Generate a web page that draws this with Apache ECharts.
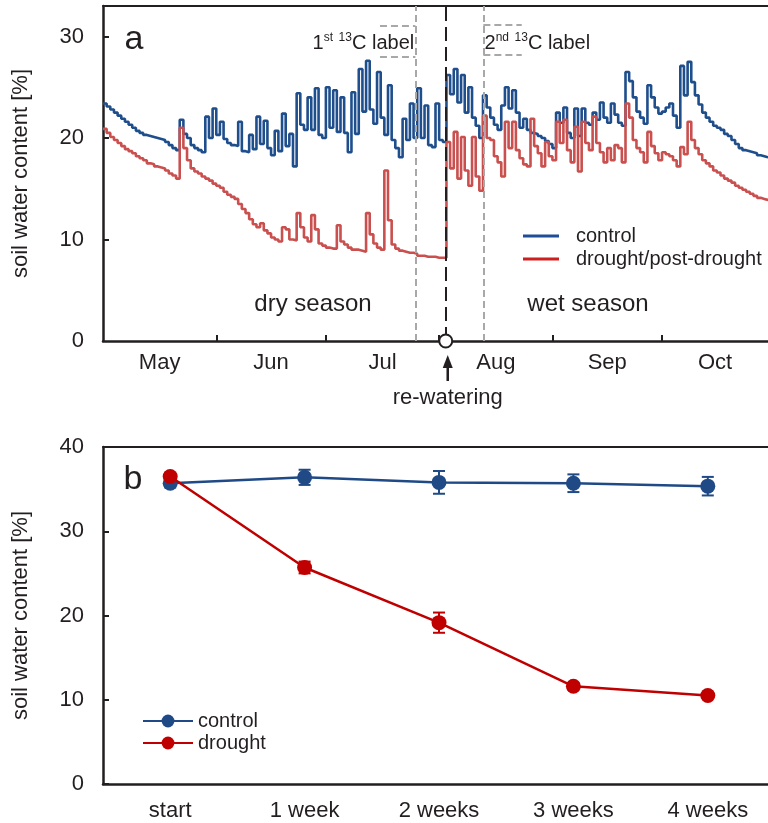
<!DOCTYPE html>
<html><head><meta charset="utf-8">
<script src="https://cdn.jsdelivr.net/npm/echarts@6/dist/echarts.min.js"></script>
<style>html,body{margin:0;padding:0;background:#fff;overflow:hidden}#c{width:768px;height:823px}</style>
</head><body><div id="c"></div>
<script>
// ---------- Panel a : daily soil water content, day 0 = 1 May ----------
const monthNames = ['May','Jun','Jul','Aug','Sep','Oct'];
const monthStarts = [0,31,61,92,123,153,184];
const lastDay = 182;
const controlA = [
23.4,23.1,22.8,22.5,22.2,21.9,21.6,21.3,21.0,20.7,
20.5,20.3,20.2,20.1,20.0,19.9,19.8,19.6,19.3,19.0,
18.8,21.8,20.4,20.0,19.3,19.0,18.8,18.6,22.1,20.0,
22.9,20.3,21.6,19.9,19.5,19.3,19.2,21.6,18.7,18.6,
20.3,18.9,22.1,19.4,21.7,19.0,18.3,20.7,18.7,22.4,
19.2,20.4,17.2,24.4,21.3,20.8,24.0,20.8,24.9,20.3,
20.0,25.0,21.0,24.7,20.6,24.0,20.5,18.6,24.5,20.4,
26.8,22.6,27.6,22.8,21.4,26.5,22.0,20.3,25.2,19.8,
19.0,18.1,21.9,19.8,23.4,20.0,24.9,20.0,23.2,19.3,
19.1,23.4,19.8,19.6,26.2,24.3,26.8,23.5,26.2,22.5,
25.0,22.0,21.2,20.0,24.2,23.0,22.0,21.3,20.8,23.2,
25.0,22.9,24.7,22.5,21.0,21.9,20.8,20.5,20.4,20.2,
20.0,19.7,19.4,19.0,22.5,21.5,23.0,20.5,20.0,22.9,
20.2,22.9,21.5,21.3,22.5,21.8,23.5,22.0,21.5,23.4,
22.3,21.5,21.2,26.5,25.6,24.0,22.6,22.0,21.4,25.2,
24.0,23.0,22.4,22.6,23.0,23.4,22.2,21.0,27.1,24.2,
27.5,25.5,24.2,23.3,22.5,22.0,21.6,21.2,21.0,20.8,
20.4,20.2,19.8,19.4,19.0,18.8,18.7,18.6,18.5,18.3,
18.2,18.1,18.0];
const droughtA = [
20.9,20.5,20.1,19.8,19.5,19.2,18.9,18.7,18.5,18.2,
18.0,17.8,17.5,17.4,17.2,17.1,17.0,16.8,16.5,16.3,
16.0,21.0,19.0,17.8,17.0,16.7,16.5,16.2,16.0,15.8,
15.5,15.3,15.1,14.7,14.4,14.2,14.0,13.5,13.0,12.6,
12.0,11.5,11.2,11.6,10.9,10.6,10.2,10.0,9.8,11.2,
11.0,10.0,9.9,12.6,11.2,10.2,9.8,12.4,11.0,9.6,
9.4,9.2,9.1,9.1,11.4,9.8,9.5,9.2,9.0,9.0,
8.9,8.8,12.6,10.5,9.6,9.2,9.0,16.8,11.9,9.5,
9.1,8.9,8.8,8.7,8.7,8.6,8.4,8.4,8.3,8.3,
8.3,8.2,8.2,8.2,19.6,17.0,20.6,16.0,20.1,16.8,
15.3,20.1,16.2,14.8,22.2,20.0,19.8,18.2,17.6,16.2,
21.6,19.0,21.6,18.8,18.0,17.4,17.2,21.9,19.2,18.5,
17.2,19.6,18.2,17.8,21.6,19.5,21.8,18.8,17.6,21.1,
16.7,21.6,19.5,18.8,22.1,19.5,18.6,17.6,19.0,17.8,
19.3,19.0,17.6,23.4,22.0,19.8,19.0,18.6,17.6,20.6,
19.2,18.5,17.8,18.6,18.4,18.2,17.8,17.2,19.1,18.4,
21.6,19.8,19.0,18.4,17.8,17.5,17.2,16.8,16.6,16.3,
16.0,15.8,15.6,15.3,15.1,14.9,14.7,14.5,14.3,14.1,
14.0,13.9,13.8];
const label1Day = 85.5, rewaterDay = 93.8, label2Day = 104.1;

// ---------- Panel b : weekly means ± error ----------
const weekCats = ['start','1 week','2 weeks','3 weeks','4 weeks'];
const ctrlMean = [35.7, 36.4, 35.8, 35.7, 35.35];
const ctrlErr  = [0.5, 0.9, 1.35, 1.05, 1.1];
const drMean   = [36.5, 25.7, 19.15, 11.6, 10.5];
const drErr    = [0.4, 0.7, 1.2, 0.4, 0.3];

const TXT = '#231f20';
const FONT = "'Liberation Sans', Arial, Helvetica, sans-serif";
const BLUE_A = '#1f4e8c', RED_A = '#c9504e';
const BLUE_B = '#1f4a86', RED_B = '#c00000';
const GRAY = '#a8a8a8';

const monthMid = monthNames.map((m,i)=> (monthStarts[i] + Math.min(monthStarts[i+1], lastDay))/2);

function errRender(color){
  return function(params, api){
    const x = api.value(0), lo = api.value(1), hi = api.value(2);
    const a = api.coord([x, hi]), b = api.coord([x, lo]);
    const w = 6;
    const st = {stroke: color, lineWidth: 2};
    return {type:'group', children:[
      {type:'line', shape:{x1:a[0], y1:a[1], x2:b[0], y2:b[1]}, style:st},
      {type:'line', shape:{x1:a[0]-w, y1:a[1], x2:a[0]+w, y2:a[1]}, style:st},
      {type:'line', shape:{x1:b[0]-w, y1:b[1], x2:b[0]+w, y2:b[1]}, style:st}
    ]};
  };
}

const axisLineStyle = {color: TXT, width: 2.5};
const chart = echarts.init(document.getElementById('c'), null, {renderer:'canvas'});
const option = {
  animation: false,
  backgroundColor: '#fff',
  textStyle: {fontFamily: FONT, color: TXT},
  grid: [
    {left: 103, top: 6, right: 0, height: 335, outerBoundsMode:'none', containLabel:false},
    {left: 103, top: 447, right: -7, height: 337, outerBoundsMode:'none', containLabel:false}
  ],
  xAxis: [
    {gridIndex:0, type:'value', min:0, max:lastDay, position:'bottom',
     axisLine:{onZero:false, lineStyle:axisLineStyle},
     axisTick:{inside:true, length:6, customValues: monthStarts.slice(1,6), lineStyle:{color:TXT, width:2}},
     axisLabel:{customValues: monthMid, formatter: v => monthNames[monthMid.indexOf(v)] || '', fontSize:22, color:TXT, margin:11, fontFamily:FONT},
     splitLine:{show:false}},
    {gridIndex:0, type:'value', min:0, max:lastDay, position:'top',
     axisLine:{onZero:false, lineStyle:{color:TXT, width:2}}, axisTick:{show:false}, axisLabel:{show:false}, splitLine:{show:false}},
    {gridIndex:1, type:'category', data: weekCats, position:'bottom',
     axisLine:{onZero:false, lineStyle:axisLineStyle},
     axisTick:{inside:true, length:6, lineStyle:{color:TXT, width:2}},
     axisLabel:{fontSize:22, color:TXT, margin:16, fontFamily:FONT}},
    {gridIndex:1, type:'category', data: weekCats, position:'top',
     axisLine:{onZero:false, lineStyle:{color:TXT, width:2}}, axisTick:{show:false}, axisLabel:{show:false}}
  ],
  yAxis: [
    {gridIndex:0, type:'value', min:0, max:33,
     name:'soil water content [%]', nameLocation:'middle', nameGap:71,
     nameTextStyle:{fontSize:22, color:TXT, fontFamily:FONT},
     axisLine:{show:true, onZero:false, lineStyle:axisLineStyle},
     axisTick:{show:true, inside:true, length:6, customValues:[10,20,30], lineStyle:{color:TXT, width:2}},
     axisLabel:{customValues:[0,10,20,30], fontSize:22, color:TXT, margin:19, fontFamily:FONT},
     splitLine:{show:false}},
    {gridIndex:1, type:'value', min:0, max:40, interval:10,
     name:'soil water content [%]', nameLocation:'middle', nameGap:71,
     nameTextStyle:{fontSize:22, color:TXT, fontFamily:FONT},
     axisLine:{show:true, onZero:false, lineStyle:axisLineStyle},
     axisTick:{show:true, inside:true, length:6, lineStyle:{color:TXT, width:2}},
     axisLabel:{fontSize:22, color:TXT, margin:19, fontFamily:FONT},
     splitLine:{show:false}}
  ],
  legend: [
    {data:[{name:'control', icon:'rect', itemStyle:{color:'#1f4e96'}},
           {name:'drought/post-drought', icon:'rect', itemStyle:{color:'#cc1f1f'}}],
     orient:'vertical', left:518, top:221, itemWidth:36, itemHeight:3, itemGap:3,
     selectedMode:false, textStyle:{fontSize:20, color:TXT, fontFamily:FONT, padding:[0,0,0,12]}},
    {data:['control','drought'], orient:'vertical', left:137, top:706, itemWidth:50, itemHeight:16, itemGap:2,
     selectedMode:false, textStyle:{fontSize:20, color:TXT, fontFamily:FONT}}
  ],
  series: [
    {type:'custom', name:'control error', xAxisIndex:2, yAxisIndex:1, silent:true, z:2,
     renderItem: errRender(BLUE_B), encode:{x:0, y:[1,2]},
     data: ctrlMean.map((m,i)=>[i, m-ctrlErr[i], m+ctrlErr[i]])},
    {type:'custom', name:'drought error', xAxisIndex:2, yAxisIndex:1, silent:true, z:2,
     renderItem: errRender(RED_B), encode:{x:0, y:[1,2]},
     data: drMean.map((m,i)=>[i, m-drErr[i], m+drErr[i]])},
    {type:'line', name:'control', xAxisIndex:2, yAxisIndex:1, data: ctrlMean, z:3,
     symbol:'circle', symbolSize:15, showSymbol:true,
     lineStyle:{width:2.5, color:BLUE_B}, itemStyle:{color:BLUE_B}},
    {type:'line', name:'drought', xAxisIndex:2, yAxisIndex:1, data: drMean, z:4,
     symbol:'circle', symbolSize:15, showSymbol:true,
     lineStyle:{width:2.5, color:RED_B}, itemStyle:{color:RED_B}},
    {type:'line', name:'control', xAxisIndex:0, yAxisIndex:0, step:'end', symbol:'none', z:3,
     data: controlA.map((v,i)=>[i,v]), lineStyle:{width:2.6, color:BLUE_A}, itemStyle:{color:BLUE_A},
     markLine:{silent:true, symbol:['none','none'], label:{show:false},
       data:[
         {xAxis:label1Day, lineStyle:{color:GRAY, type:[7,4], width:2}},
         {xAxis:label2Day, lineStyle:{color:GRAY, type:[7,4], width:2}},
         {xAxis:rewaterDay, lineStyle:{color:TXT, type:[14,6], width:2}},
         [{coord:[75.8,31.1], lineStyle:{color:GRAY, type:[7,4], width:2}},{coord:[label1Day,31.1]}],
         [{coord:[75.8,28.0], lineStyle:{color:GRAY, type:[7,4], width:2}},{coord:[label1Day,28.0]}],
         [{coord:[label2Day,31.2], lineStyle:{color:GRAY, type:[7,4], width:2}},{coord:[114.6,31.2]}],
         [{coord:[label2Day,28.2], lineStyle:{color:GRAY, type:[7,4], width:2}},{coord:[114.6,28.2]}]
       ]}},
    {type:'line', name:'drought/post-drought', xAxisIndex:0, yAxisIndex:0, step:'end', symbol:'none', z:4,
     data: droughtA.map((v,i)=>[i,v]), lineStyle:{width:2.6, color:RED_A}, itemStyle:{color:RED_A},
     markPoint:{silent:true, symbol:'circle', symbolSize:13, label:{show:false},
       itemStyle:{color:'#fff', borderColor:TXT, borderWidth:2},
       data:[{coord:[rewaterDay,0]}]}}
  ]
};
chart.setOption(option);

function txt(x, y, text, size, extra){
  return Object.assign({type:'text', x:x, y:y, z:50, style:Object.assign({
    text:text, fill:TXT, fontSize:size, fontFamily:FONT,
    align:'center', verticalAlign:'middle', textAlign:'center', textVerticalAlign:'middle'}, extra||{})});
}
const rp = chart.convertToPixel({xAxisIndex:0, yAxisIndex:0}, [rewaterDay, 0]);
const l1 = chart.convertToPixel({xAxisIndex:0, yAxisIndex:0}, [label1Day, 0]);
const l2 = chart.convertToPixel({xAxisIndex:0, yAxisIndex:0}, [label2Day, 0]);
const rich = {
  n:{fontSize:20, fontFamily:FONT, fill:TXT, color:TXT, lineHeight:22, verticalAlign:'bottom'},
  s:{fontSize:12, fontFamily:FONT, fill:TXT, color:TXT, lineHeight:12, verticalAlign:'bottom', padding:[0,0,9,0]}
};
const ax = rp[0] + 2;
chart.setOption({graphic:[
  txt(134, 40, 'a', 34),
  txt(133, 480, 'b', 34),
  txt(313, 304, 'dry season', 24),
  txt(588, 304, 'wet season', 24),
  txt(l1[0] - 52, 42, '{n|1}{s|st}{n| }{s|13}{n|C label}', 20, {rich:rich}),
  txt(l2[0] + 54, 42, '{n|2}{s|nd}{n| }{s|13}{n|C label}', 20, {rich:rich}),
  txt(ax, 398, 're-watering', 22),
  {type:'polygon', z:50, shape:{points:[[ax-5, rp[1]+27],[ax+5, rp[1]+27],[ax, rp[1]+14]]}, style:{fill:TXT}},
  {type:'line', z:50, shape:{x1:ax, y1:rp[1]+26, x2:ax, y2:rp[1]+40}, style:{stroke:TXT, lineWidth:2.5}}
]});
</script></body></html>
